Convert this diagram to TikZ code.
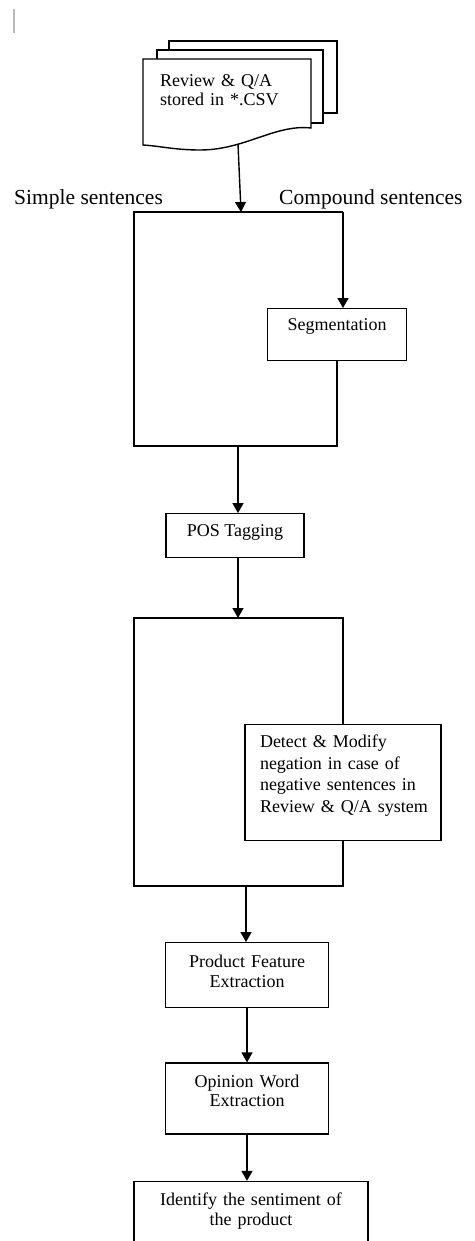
\documentclass[tikz,border=0pt]{standalone}
\usepackage{fontspec}
\setmainfont{Liberation Serif}
\usetikzlibrary{arrows.meta,positioning}

\newcommand{\boxfont}{\fontsize{18}{19.5}\selectfont}
\newcommand{\tagfont}{\fontsize{21.5}{24}\selectfont}

\begin{document}
\begin{tikzpicture}[
    x=1pt, y=-1pt,
    >={Triangle[length=10pt,width=11pt]},
    flowbox/.style={rectangle, draw, line width=1.4pt, font=\boxfont,
                    inner sep=0pt, align=center, anchor=north},
    arrow/.style={->, line width=1.4pt},
    frame/.style={line width=1.4pt},
    tag/.style={font=\tagfont, inner sep=0pt, anchor=base west}
]
\useasboundingbox (0,0) rectangle (474,1241);
\clip (0,0) rectangle (474,1241);

% cursor mark
\draw[gray!55, line width=1.5pt] (14,9) -- (14,33);

% Input documents
\draw[frame] (169,50) -- (169,41) -- (337,41) -- (337,113) -- (323,113);
\draw[frame] (157,59) -- (157,50) -- (323,50) -- (323,123) -- (311,123);
\draw[frame, fill=white] (143,59) -- (311,59) -- (311,128)
    .. controls (275,124) and (245,150) .. (200,150)
    .. controls (175,150) and (160,146) .. (143,145) -- cycle;
\node[font=\boxfont, align=left, inner sep=0pt, anchor=north west,
      text width=140pt, text height=17pt] (src) at (160,69) {Review \& Q/A\\stored in *.CSV};
\coordinate (srcout) at (238,144);

% Sentence split
\node[tag] (simple) at (14,205) {Simple sentences};
\node[tag] (compound) at (279,205) {Compound sentences};
\coordinate (split) at (241,212);
\coordinate (b1nw) at (134,212);
\coordinate (b1ne) at (343,212);
\coordinate (b1sw) at (134,446);
\coordinate (b1s) at (238,446);

\node[flowbox, minimum width=139pt, text height=22pt, text depth=30pt]
    (seg) at (337,308) {Segmentation};
\node[flowbox, minimum width=138pt, text height=23pt, text depth=21pt]
    (pos) at (235,513) {POS Tagging};

\draw[arrow] (srcout) -- (split);
\draw[frame] (b1ne) -- (b1nw) -- (b1sw) -- (seg.south |- b1sw) -- (seg.south);
\draw[arrow] (b1ne) -- (b1ne |- seg.north);
\draw[arrow] (b1s) -- (b1s |- pos.north);

% Negation handling
\coordinate (b2nw) at (134,618);
\coordinate (b2ne) at (343,618);
\coordinate (b2sw) at (134,886);
\coordinate (b2se) at (343,886);
\coordinate (b2s) at (246,886);

\node[flowbox, align=left, text width=166pt, inner xsep=15pt,
      font={\fontsize{18}{21.5}\selectfont}, text height=23pt, text depth=93pt]
    (neg) at (343,724) {Detect \& Modify\\negation in case of\\negative sentences in\\\makebox[166pt][l]{Review \& Q/A system}};

\draw[arrow] (b1s |- pos.south) -- (b1s |- b2nw);
\draw[frame] (b2ne |- neg.north) -- (b2ne) -- (b2nw) -- (b2sw) -- (b2se) -- (b2se |- neg.south);

% Extraction
\node[flowbox, text width=163pt, text height=25pt, text depth=40pt]
    (feat) at (247,942) {Product Feature\\Extraction};
\node[flowbox, text width=163pt, text height=24pt, text depth=47pt,
      below=54pt of feat] (opin) {Opinion Word\\Extraction};
\node[flowbox, text width=234pt, text height=24pt, text depth=70pt,
      below=46pt of opin, xshift=4pt] (sent) {Identify the sentiment of\\the product};

\draw[arrow] (b2s) -- (b2s |- feat.north);
\draw[arrow] (feat) -- (opin);
\draw[arrow] (opin.south) -- (opin.south |- sent.north);
\end{tikzpicture}
\end{document}
